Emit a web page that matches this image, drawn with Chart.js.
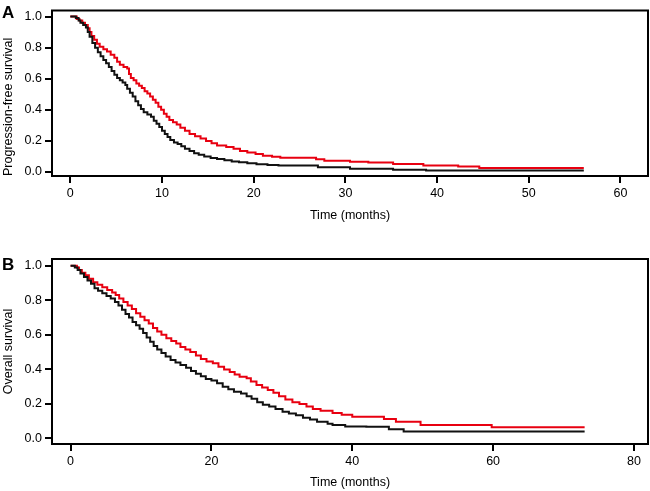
<!DOCTYPE html>
<html>
<head>
<meta charset="utf-8">
<script src="https://cdn.jsdelivr.net/npm/chart.js@4.4.0/dist/chart.umd.min.js"></script>
<style>
body { margin: 0; background: #fff; }
.panel { position: absolute; left: 0; width: 650px; }
.tag { position: absolute; left: 2px; font: bold 17px "Liberation Sans", Arial, sans-serif; line-height: 17px; color: #000; }
</style>
</head>
<body>
<div class="panel" style="top:0;height:228px"><canvas id="pfsChart"></canvas></div>
<div class="panel" style="top:245px;height:246px"><canvas id="osChart"></canvas></div>
<div class="tag" style="top:4px">A</div>
<div class="tag" style="top:256px">B</div>
<script>
// Panel A - progression-free survival (step points: time, survival after the step)
var pfsTimeRed = [0, 0.7, 1.0, 1.3, 1.6, 1.9, 2.1, 2.3, 2.6, 2.9, 3.2, 3.6, 4.0, 4.4, 4.8, 5.1, 5.4, 5.8, 6.2, 6.4, 6.6, 6.9, 7.2, 7.5, 7.8, 8.1, 8.4, 8.7, 9.0, 9.3, 9.6, 9.9, 10.2, 10.5, 10.8, 11.2, 11.6, 12.0, 12.5, 13.0, 13.6, 14.2, 14.8, 15.4, 16.0, 17.0, 17.8, 18.5, 19.3, 20.2, 21.0, 22.0, 22.9, 26.8, 27.7, 30.5, 32.5, 35.2, 38.5, 42.3, 44.6, 56];
var pfsSurvRed = [1.0, 0.985, 0.975, 0.96, 0.945, 0.925, 0.9, 0.875, 0.85, 0.825, 0.805, 0.79, 0.775, 0.755, 0.735, 0.71, 0.69, 0.675, 0.665, 0.63, 0.605, 0.59, 0.57, 0.555, 0.54, 0.52, 0.505, 0.485, 0.465, 0.445, 0.42, 0.4, 0.375, 0.355, 0.335, 0.32, 0.305, 0.285, 0.265, 0.245, 0.23, 0.215, 0.2, 0.185, 0.17, 0.16, 0.15, 0.135, 0.125, 0.115, 0.105, 0.098, 0.092, 0.082, 0.072, 0.065, 0.061, 0.051, 0.041, 0.035, 0.025, 0.025];
var pfsTimeBlack = [0, 0.6, 0.9, 1.1, 1.4, 1.7, 1.9, 2.1, 2.4, 2.7, 3.0, 3.3, 3.6, 3.9, 4.2, 4.5, 4.8, 5.1, 5.4, 5.7, 6.0, 6.2, 6.5, 6.8, 7.1, 7.4, 7.7, 8.0, 8.4, 8.8, 9.1, 9.4, 9.7, 10.0, 10.3, 10.6, 10.9, 11.3, 11.7, 12.1, 12.5, 13.0, 13.5, 14.0, 14.6, 15.3, 16.0, 16.8, 17.6, 18.4, 19.3, 20.3, 21.5, 22.7, 27.0, 30.5, 35.2, 38.8, 56];
var pfsSurvBlack = [1.0, 0.99, 0.975, 0.96, 0.945, 0.93, 0.9, 0.87, 0.83, 0.8, 0.77, 0.745, 0.72, 0.7, 0.675, 0.65, 0.625, 0.605, 0.59, 0.575, 0.56, 0.535, 0.51, 0.485, 0.455, 0.43, 0.405, 0.385, 0.37, 0.355, 0.33, 0.31, 0.29, 0.265, 0.245, 0.225, 0.205, 0.19, 0.18, 0.165, 0.15, 0.135, 0.12, 0.11, 0.1, 0.09, 0.083, 0.075, 0.068, 0.062, 0.056, 0.05, 0.045, 0.041, 0.031, 0.021, 0.015, 0.01, 0.01];

// Panel B - overall survival
var osTimeRed = [0, 0.9, 1.2, 1.6, 2.1, 2.6, 3.2, 3.8, 4.5, 5.2, 5.9, 6.4, 6.9, 7.5, 8.1, 8.7, 9.3, 9.9, 10.5, 11.1, 11.7, 12.3, 12.9, 13.6, 14.3, 15.0, 15.6, 16.3, 17.0, 17.8, 18.5, 19.3, 20.2, 21.0, 21.8, 22.6, 23.3, 24.0, 25.0, 25.6, 26.4, 27.2, 28.0, 28.8, 29.6, 30.5, 31.5, 32.5, 33.5, 34.4, 35.5, 37.2, 38.5, 40.0, 44.5, 46.2, 49.7, 59.8, 73];
var osSurvRed = [1.0, 0.99, 0.975, 0.96, 0.945, 0.925, 0.905, 0.89, 0.875, 0.86, 0.845, 0.83, 0.81, 0.79, 0.77, 0.75, 0.725, 0.705, 0.685, 0.665, 0.64, 0.62, 0.6, 0.58, 0.565, 0.55, 0.53, 0.515, 0.5, 0.48, 0.46, 0.445, 0.435, 0.415, 0.4, 0.385, 0.37, 0.358, 0.348, 0.33, 0.31, 0.295, 0.28, 0.265, 0.245, 0.225, 0.21, 0.2, 0.185, 0.17, 0.16, 0.148, 0.138, 0.126, 0.113, 0.097, 0.078, 0.065, 0.065];
var osTimeBlack = [0, 0.6, 1.0, 1.4, 1.9, 2.4, 2.9, 3.4, 3.9, 4.5, 5.1, 5.7, 6.3, 6.8, 7.3, 7.8, 8.3, 8.8, 9.3, 9.8, 10.3, 10.8, 11.3, 11.8, 12.3, 12.9, 13.5, 14.2, 14.9, 15.6, 16.4, 17.1, 17.8, 18.5, 19.2, 20.0, 20.8, 21.6, 22.4, 23.2, 24.2, 25.0, 25.7, 26.5, 27.3, 28.2, 29.1, 30.1, 31.0, 32.0, 33.0, 34.0, 35.0, 36.5, 37.2, 39.0, 42.0, 45.2, 47.3, 73];
var osSurvBlack = [1.0, 0.99, 0.975, 0.955, 0.935, 0.915, 0.895, 0.87, 0.855, 0.84, 0.825, 0.81, 0.79, 0.77, 0.745, 0.72, 0.7, 0.675, 0.655, 0.635, 0.61, 0.585, 0.56, 0.535, 0.515, 0.495, 0.475, 0.455, 0.44, 0.425, 0.41, 0.39, 0.375, 0.36, 0.345, 0.335, 0.32, 0.3, 0.285, 0.27, 0.26, 0.245, 0.23, 0.21, 0.195, 0.185, 0.17, 0.155, 0.145, 0.135, 0.12, 0.11, 0.097, 0.085, 0.078, 0.07, 0.068, 0.053, 0.04, 0.04];

// tick labels
var pfsXTicks = [0, 10, 20, 30, 40, 50, 60];
var osXTicks = [0, 20, 40, 60, 80];
var yTicks = [0.0, 0.2, 0.4, 0.6, 0.8, 1.0];

Chart.defaults.font.family = '"Liberation Sans", Arial, sans-serif';
Chart.defaults.font.size = 12.5;
Chart.defaults.color = '#000';

// draws the full frame round the plot area
var boxPlugin = {
    id: 'box',
    afterDraw: function (chart) {
        var a = chart.chartArea;
        var c = chart.ctx;
        c.save();
        c.strokeStyle = '#000';
        c.lineWidth = 2;
        c.strokeRect(a.left, a.top, a.right - a.left, a.bottom - a.top);
        c.restore();
    }
};

function toPoints(times, surv) {
    return times.map(function (t, i) { return { x: t, y: surv[i] }; });
}

function kmChart(id, red, black, xTicks, opt) {
    var ctx = document.getElementById(id).getContext('2d');
    return new Chart(ctx, {
        type: 'line',
        data: {
            datasets: [{
                data: black,
                borderColor: '#111',
                borderWidth: 2,
                stepped: true,
                pointRadius: 0,
                fill: false
            },
            {
                data: red,
                borderColor: 'rgb(232, 0, 16)',
                borderWidth: 2,
                stepped: true,
                pointRadius: 0,
                fill: false
            }]
        },
        options: {
            responsive: true,
            maintainAspectRatio: false,
            animation: false,
            layout: { padding: { top: opt.padTop, right: 2, left: 0, bottom: 0 } },
            plugins: { legend: { display: false }, tooltip: { enabled: false } },
            scales: {
                x: {
                    type: 'linear',
                    min: opt.xMin,
                    max: opt.xMax,
                    afterBuildTicks: function (s) { s.ticks = xTicks.map(function (v) { return { value: v }; }); },
                    afterFit: function (s) { s.height = opt.xHeight; },
                    grid: { drawOnChartArea: false, drawTicks: true, tickLength: 7, color: '#000', lineWidth: 2 },
                    border: { display: false },
                    ticks: { padding: 3, maxRotation: 0, autoSkip: false, color: '#000' },
                    title: { display: true, text: 'Time (months)', color: '#000', padding: { top: 0, bottom: opt.titlePad } }
                },
                y: {
                    min: opt.yMin,
                    max: opt.yMax,
                    afterBuildTicks: function (s) { s.ticks = yTicks.map(function (v) { return { value: v }; }); },
                    afterFit: function (s) { s.width = 52; },
                    grid: { drawOnChartArea: false, drawTicks: true, tickLength: 7, color: '#000', lineWidth: 2 },
                    border: { display: false },
                    ticks: { padding: 3, color: '#000', callback: function (v) { return v.toFixed(1); } },
                    title: { display: true, text: opt.yTitle, align: opt.yAlign, color: '#000', padding: { top: 1, bottom: 0 } }
                }
            }
        },
        plugins: [boxPlugin]
    });
}

var pfsChart = kmChart('pfsChart', toPoints(pfsTimeRed, pfsSurvRed), toPoints(pfsTimeBlack, pfsSurvBlack), pfsXTicks, {
    xMin: -2.0, xMax: 63.0, yMin: -0.026, yMax: 1.039,
    padTop: 2, xHeight: 52, titlePad: 5, yTitle: 'Progression-free survival', yAlign: 'start'
});

var osChart = kmChart('osChart', toPoints(osTimeRed, osSurvRed), toPoints(osTimeBlack, osSurvBlack), osXTicks, {
    xMin: -2.64, xMax: 82.0, yMin: -0.032, yMax: 1.039,
    padTop: 14, xHeight: 47, titlePad: 1, yTitle: 'Overall survival', yAlign: 'center'
});
</script>
</body>
</html>
